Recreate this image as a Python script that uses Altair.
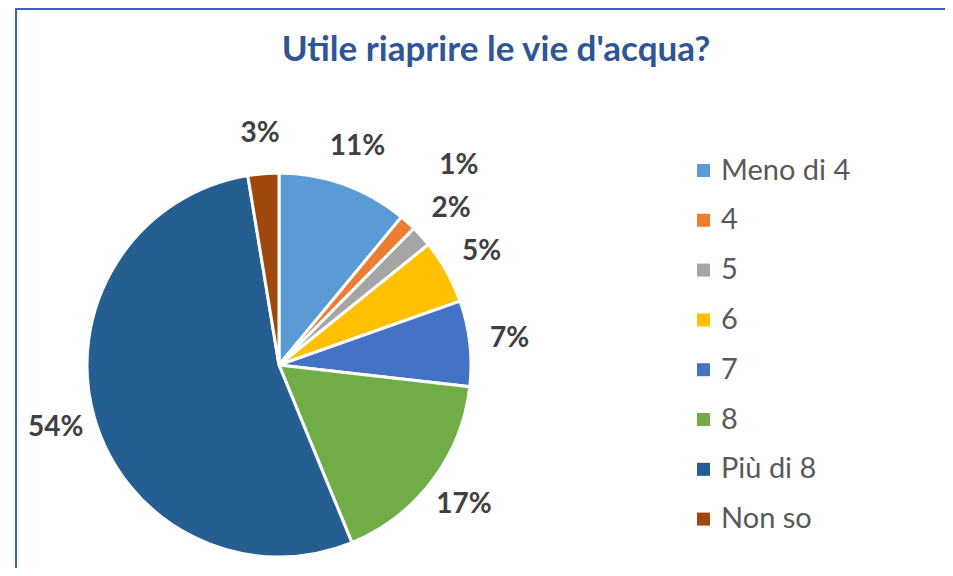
import altair as alt
import pandas as pd

TITLE = "Utile riaprire le vie d'acqua?"
CATEGORIES = ["Meno di 4", "4", "5", "6", "7", "8", "Più di 8", "Non so"]
VALUES = [11.0, 1.4, 1.8, 5.4, 7.2, 17.0, 53.6, 2.6]
LABELS = ["11%", "1%", "2%", "5%", "7%", "17%", "54%", "3%"]
COLORS = ["#5B9BD5", "#ED7D31", "#A5A5A5", "#FFC000", "#4472C4", "#70AD47", "#255E91", "#9E480E"]

df = pd.DataFrame({
    "categoria": CATEGORIES,
    "valore": VALUES,
    "etichetta": LABELS,
    "ordine": list(range(len(CATEGORIES))),
})

CX, CY, R = 271, 357, 192

base = alt.Chart(df)

pie = base.mark_arc(outerRadius=R, stroke="white", strokeWidth=3, x=CX, y=CY).encode(
    theta=alt.Theta("valore:Q", stack=True),
    order=alt.Order("ordine:Q"),
    color=alt.Color(
        "categoria:N",
        scale=alt.Scale(domain=CATEGORIES, range=COLORS),
        sort=CATEGORIES,
        legend=alt.Legend(
            title=None,
            orient="none",
            legendX=681,
            legendY=148,
            symbolType="square",
            symbolSize=169,
            symbolStrokeWidth=0,
            labelFont="Lato",
            labelFontSize=29,
            labelColor="#595959",
            labelOffset=3,
            rowPadding=19.8,
            labelLimit=300,
        ),
    ),
)

labels = base.mark_text(
    font="Lato", fontWeight="bold", fontSize=28, color="#404040",
    x=CX, y=CY, align="center", baseline="middle",
    radius=alt.expr("datum.valore < 1.5 ? 268 : 232"),
).encode(
    theta=alt.Theta("valore:Q", stack=True),
    order=alt.Order("ordine:Q"),
    detail="categoria:N",
    text="etichetta:N",
)

title = alt.Chart(pd.DataFrame({"t": [TITLE]})).mark_text(
    font="Lato", fontWeight="bold", fontSize=35, color="#2F5597",
    align="center", baseline="alphabetic",
).encode(text="t:N", x=alt.value(488), y=alt.value(53))

border = alt.Chart(pd.DataFrame({"b": [0]})).mark_rect(
    fillOpacity=0, stroke="#3B64AD", strokeWidth=2,
).encode(x=alt.value(8), x2=alt.value(1200), y=alt.value(1), y2=alt.value(1200))

chart = alt.layer(border, pie, labels, title).properties(
    width=937, height=560,
    padding=0,
    autosize=alt.AutoSizeParams(type="none"),
).configure_view(stroke=None)

chart.save("out.html", embed_options={"renderer": "svg", "actions": False})
